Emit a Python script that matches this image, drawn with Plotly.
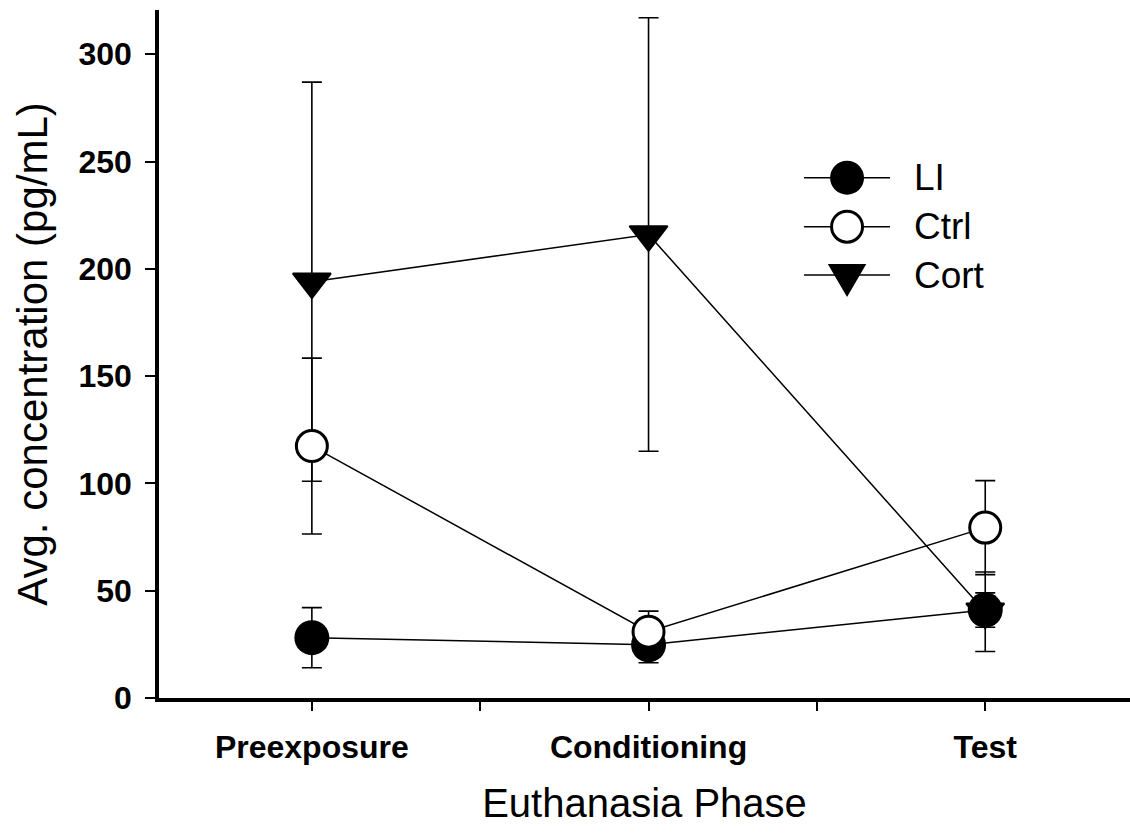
import plotly.graph_objects as go

# ---- data ----
phases = ["Preexposure", "Conditioning", "Test"]
phase_pos = [1, 2, 3]

li_mean = [28.1, 24.8, 41.0]
li_err = [14.0, 8.4, 8.0]

ctrl_mean = [117.4, 30.9, 79.4]
ctrl_err = [41.0, 9.6, 21.9]

cort_mean = [194.0, 216.0, 40.2]
cort_err = [93.0, 101.0, 18.5]

y_tick_vals = [0, 50, 100, 150, 200, 250, 300]
x_tick_vals = [1, 1.5, 2, 2.5, 3]
x_tick_text = ["Preexposure", "", "Conditioning", "", "Test"]

FONT = "Liberation Sans, Arial, sans-serif"

fig = go.Figure()

def err(arr):
    return dict(type="data", array=arr, visible=True, color="black",
                thickness=1.6, width=10)

# draw order: Cort (bottom), LI, Ctrl (top)
fig.add_trace(go.Scatter(
    x=phase_pos, y=cort_mean, mode="lines+markers", name="Cort",
    line=dict(color="black", width=1.5),
    marker=dict(symbol="triangle-down", size=33, color="black",
                line=dict(color="black", width=2)),
    error_y=err(cort_err), showlegend=False))
fig.add_trace(go.Scatter(
    x=phase_pos, y=li_mean, mode="lines+markers", name="LI",
    line=dict(color="black", width=1.5),
    marker=dict(symbol="circle", size=35, color="black",
                line=dict(color="black", width=0)),
    error_y=err(li_err), showlegend=False))
fig.add_trace(go.Scatter(
    x=phase_pos, y=ctrl_mean, mode="lines+markers", name="Ctrl",
    line=dict(color="black", width=1.5),
    marker=dict(symbol="circle", size=31, color="white",
                line=dict(color="black", width=3)),
    error_y=err(ctrl_err), showlegend=False))

# ---- custom legend (large symbols, long lines) ----
leg_x0, leg_x1, leg_xm, leg_tx = 0.6643, 0.7528, 0.7086, 0.7755
leg_rows = {"LI": 0.7563, "Ctrl": 0.685, "Cort": 0.6148}
shapes = []
annotations = []
for name, yy in leg_rows.items():
    shapes.append(dict(type="line", xref="paper", yref="paper",
                       x0=leg_x0, x1=leg_x1, y0=yy, y1=yy,
                       line=dict(color="black", width=1.5)))
    if name == "LI":
        shapes.append(dict(type="circle", xref="paper", yref="paper",
                           xsizemode="pixel", ysizemode="pixel",
                           xanchor=leg_xm, yanchor=yy,
                           x0=-17, x1=17, y0=-17, y1=17,
                           fillcolor="black", line=dict(color="black", width=0)))
    elif name == "Ctrl":
        shapes.append(dict(type="circle", xref="paper", yref="paper",
                           xsizemode="pixel", ysizemode="pixel",
                           xanchor=leg_xm, yanchor=yy,
                           x0=-15.5, x1=15.5, y0=-15.5, y1=15.5,
                           fillcolor="white", line=dict(color="black", width=3)))
    else:
        shapes.append(dict(type="path", xref="paper", yref="paper",
                           xsizemode="pixel", ysizemode="pixel",
                           xanchor=leg_xm, yanchor=yy,
                           path="M -17.5 10 L 17.5 10 L 0 -20 Z",
                           fillcolor="black", line=dict(color="black", width=2)))
    annotations.append(dict(x=leg_tx, y=yy, xref="paper", yref="paper",
                            text=name, showarrow=False, xanchor="left",
                            yanchor="middle",
                            font=dict(family=FONT, size=37, color="black")))

fig.update_layout(
    width=1130, height=834,
    margin=dict(l=159, r=0, t=10, b=136),
    paper_bgcolor="white", plot_bgcolor="white",
    shapes=shapes, annotations=annotations,
    font=dict(family=FONT, color="black"),
)

fig.update_xaxes(
    range=[0.546, 3.43], showgrid=False, zeroline=False,
    showline=True, linecolor="black", linewidth=3.5,
    ticks="outside", ticklen=9, tickwidth=1.6, tickcolor="black",
    tickvals=x_tick_vals, ticktext=x_tick_text,
    tickfont=dict(family=FONT, size=32, color="black", weight="bold"),
    ticklabelstandoff=9,
    title=dict(text="Euthanasia Phase", standoff=26,
               font=dict(family=FONT, size=40, color="black")),
)
fig.update_yaxes(
    range=[0, 320.6], showgrid=False, zeroline=False,
    showline=True, linecolor="black", linewidth=3.5,
    ticks="outside", ticklen=10, tickwidth=1.6, tickcolor="black",
    tickvals=y_tick_vals,
    tickfont=dict(family=FONT, size=32, color="black", weight="bold"),
    ticklabelstandoff=7,
    title=dict(text="Avg. concentration (pg/mL)", standoff=19,
               font=dict(family=FONT, size=42, color="black")),
)

fig.write_html("out.html")
